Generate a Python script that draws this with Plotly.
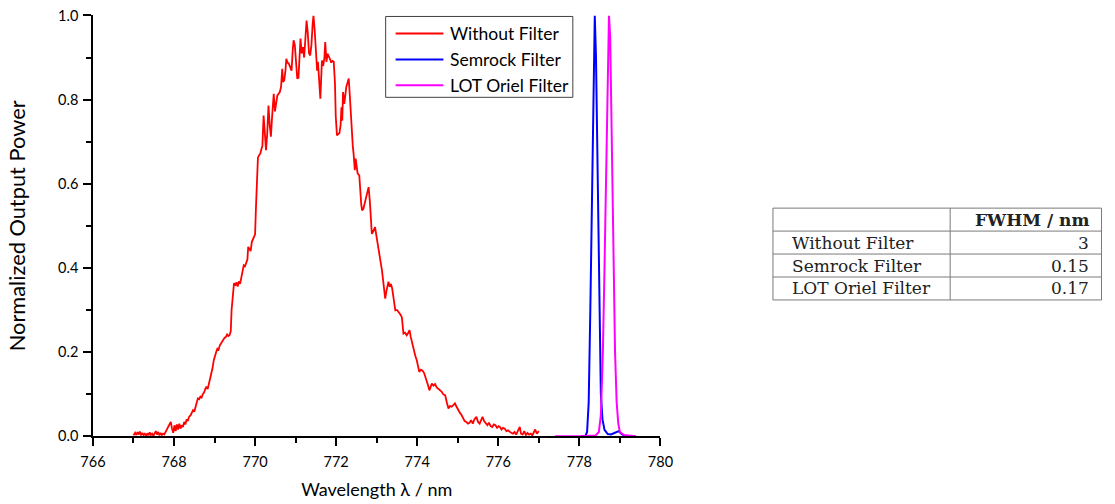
import plotly.graph_objects as go

W, H = 1115, 504

# The page is displayed slightly scaled and offset from the figure's own
# pixel grid; these constants convert screen pixels back to figure pixels.
SCALE_X, SCALE_Y = 0.981, 0.968
OFFSET_X, OFFSET_Y = 10.9, 8.8


def px(x):
    """Screen pixel column -> paper x fraction."""
    return (x / SCALE_X - OFFSET_X) / W


def py(y):
    """Screen pixel row (from top) -> paper y fraction."""
    return 1 - (y / SCALE_Y - OFFSET_Y) / H


# Spectrum without filter (wavelength in nm, normalized power)
wl_nofilter = [
    767.00, 767.04, 767.07, 767.10, 767.13, 767.16, 767.19, 767.22, 767.25, 767.28,
    767.31, 767.34, 767.37, 767.40, 767.43, 767.46, 767.49, 767.52, 767.55, 767.58,
    767.61, 767.64, 767.67, 767.70, 767.73, 767.76, 767.80, 767.84, 767.88, 767.92,
    767.95, 767.98, 768.01, 768.04, 768.07, 768.10, 768.13, 768.16, 768.19, 768.22,
    768.25, 768.28, 768.31, 768.34, 768.37, 768.41, 768.44, 768.47, 768.50, 768.53,
    768.56, 768.59, 768.62, 768.65, 768.68, 768.71, 768.74, 768.77, 768.80, 768.83,
    768.86, 768.89, 768.92, 768.95, 768.98, 769.01, 769.04, 769.07, 769.10, 769.13,
    769.16, 769.19, 769.22, 769.25, 769.28, 769.31, 769.34, 769.37, 769.40, 769.42,
    769.45, 769.48, 769.51, 769.54, 769.57, 769.60, 769.63, 769.66, 769.69, 769.72,
    769.75, 769.78, 769.81, 769.83, 769.86, 769.89, 769.92, 769.95, 769.98, 770.00,
    770.02, 770.04, 770.07, 770.10, 770.13, 770.16, 770.18, 770.21, 770.24, 770.27,
    770.30, 770.33, 770.36, 770.39, 770.42, 770.46, 770.49, 770.52, 770.55, 770.58,
    770.61, 770.64, 770.67, 770.69, 770.72, 770.75, 770.77, 770.80, 770.83, 770.87,
    770.90, 770.93, 770.95, 770.98, 771.01, 771.04, 771.07, 771.10, 771.12, 771.15,
    771.18, 771.21, 771.24, 771.27, 771.30, 771.33, 771.36, 771.39, 771.42, 771.44,
    771.47, 771.50, 771.53, 771.55, 771.58, 771.61, 771.63, 771.65, 771.68, 771.71,
    771.73, 771.76, 771.79, 771.82, 771.85, 771.88, 771.91, 771.94, 771.97, 771.99,
    772.02, 772.05, 772.08, 772.11, 772.13, 772.15, 772.17, 772.20, 772.23, 772.25,
    772.28, 772.31, 772.33, 772.35, 772.37, 772.39, 772.41, 772.43, 772.46, 772.48,
    772.50, 772.53, 772.57, 772.59, 772.62, 772.64, 772.67, 772.70, 772.72, 772.75,
    772.78, 772.80, 772.83, 772.86, 772.88, 772.91, 772.94, 772.96, 772.99, 773.02,
    773.05, 773.09, 773.13, 773.17, 773.21, 773.24, 773.27, 773.29, 773.32, 773.35,
    773.38, 773.41, 773.43, 773.46, 773.50, 773.54, 773.58, 773.62, 773.64, 773.66,
    773.70, 773.74, 773.78, 773.81, 773.84, 773.88, 773.91, 773.95, 773.99, 774.02,
    774.05, 774.09, 774.13, 774.17, 774.20, 774.24, 774.27, 774.30, 774.33, 774.36,
    774.40, 774.44, 774.48, 774.52, 774.56, 774.60, 774.64, 774.69, 774.73, 774.77,
    774.81, 774.85, 774.89, 774.93, 774.97, 775.01, 775.05, 775.09, 775.13, 775.17,
    775.21, 775.25, 775.29, 775.33, 775.37, 775.41, 775.46, 775.50, 775.54, 775.58,
    775.61, 775.65, 775.69, 775.73, 775.77, 775.81, 775.85, 775.89, 775.93, 775.97,
    776.01, 776.04, 776.08, 776.12, 776.16, 776.20, 776.24, 776.28, 776.32, 776.36,
    776.40, 776.44, 776.48, 776.53, 776.56, 776.60, 776.64, 776.68, 776.72, 776.76,
    776.80, 776.84, 776.88, 776.91, 776.95, 776.98, 777.00,
]
pw_nofilter = [
    0.002, 0.008, 0.003, 0.010, 0.004, 0.011, 0.002, 0.008, 0.003, 0.006,
    0.001, 0.007, 0.002, 0.009, 0.003, 0.006, 0.001, 0.005, 0.012, 0.004,
    0.010, 0.002, 0.008, 0.003, 0.006, 0.004, 0.012, 0.020, 0.030, 0.034,
    0.018, 0.008, 0.026, 0.012, 0.028, 0.016, 0.030, 0.018, 0.026, 0.022,
    0.034, 0.028, 0.040, 0.036, 0.046, 0.050, 0.056, 0.062, 0.058, 0.072,
    0.080, 0.090, 0.088, 0.094, 0.092, 0.100, 0.104, 0.112, 0.118, 0.112,
    0.124, 0.134, 0.146, 0.162, 0.180, 0.194, 0.200, 0.208, 0.206, 0.216,
    0.222, 0.226, 0.230, 0.234, 0.236, 0.242, 0.238, 0.240, 0.250, 0.300,
    0.340, 0.364, 0.358, 0.366, 0.356, 0.368, 0.362, 0.378, 0.386, 0.406,
    0.404, 0.412, 0.420, 0.450, 0.444, 0.440, 0.462, 0.468, 0.472, 0.480,
    0.540, 0.590, 0.662, 0.668, 0.672, 0.684, 0.690, 0.762, 0.720, 0.680,
    0.720, 0.786, 0.740, 0.712, 0.760, 0.814, 0.772, 0.790, 0.810, 0.814,
    0.818, 0.830, 0.873, 0.842, 0.846, 0.870, 0.897, 0.888, 0.886, 0.876,
    0.869, 0.920, 0.941, 0.930, 0.880, 0.850, 0.852, 0.900, 0.945, 0.910,
    0.925, 0.900, 0.950, 0.988, 0.958, 0.910, 0.905, 0.930, 0.980, 1.000,
    0.965, 0.920, 0.869, 0.890, 0.850, 0.802, 0.850, 0.893, 0.880, 0.900,
    0.937, 0.890, 0.909, 0.900, 0.896, 0.888, 0.892, 0.890, 0.840, 0.760,
    0.715, 0.718, 0.720, 0.740, 0.782, 0.750, 0.818, 0.790, 0.820, 0.830,
    0.840, 0.850, 0.820, 0.782, 0.740, 0.711, 0.690, 0.671, 0.632, 0.660,
    0.640, 0.624, 0.620, 0.576, 0.550, 0.537, 0.540, 0.552, 0.560, 0.570,
    0.580, 0.592, 0.560, 0.500, 0.481, 0.486, 0.494, 0.497, 0.478, 0.456,
    0.434, 0.418, 0.394, 0.355, 0.327, 0.345, 0.360, 0.367, 0.355, 0.362,
    0.352, 0.331, 0.315, 0.299, 0.300, 0.296, 0.290, 0.283, 0.262, 0.244,
    0.246, 0.240, 0.246, 0.252, 0.236, 0.218, 0.204, 0.192, 0.180, 0.166,
    0.153, 0.158, 0.156, 0.150, 0.142, 0.133, 0.120, 0.109, 0.118, 0.125,
    0.120, 0.124, 0.116, 0.113, 0.108, 0.106, 0.100, 0.097, 0.080, 0.066,
    0.072, 0.070, 0.074, 0.078, 0.070, 0.062, 0.056, 0.051, 0.044, 0.036,
    0.034, 0.030, 0.032, 0.038, 0.030, 0.040, 0.046, 0.034, 0.030, 0.040,
    0.046, 0.036, 0.030, 0.026, 0.032, 0.024, 0.022, 0.028, 0.026, 0.020,
    0.024, 0.022, 0.016, 0.020, 0.018, 0.012, 0.014, 0.010, 0.008, 0.006,
    0.010, 0.004, 0.012, 0.022, 0.006, 0.004, 0.012, 0.003, 0.008, 0.004,
    0.006, 0.002, 0.010, 0.016, 0.006, 0.010, 0.012,
]

# Transmission through the Semrock filter
wl_semrock = [778.05, 778.15, 778.19, 778.23, 778.27, 778.31, 778.35, 778.38, 778.41,
              778.45, 778.49, 778.53, 778.57, 778.62, 778.70, 778.78, 778.85, 778.92,
              778.97, 779.02, 779.08, 779.12]
pw_semrock = [0.000, 0.001, 0.010, 0.080, 0.300, 0.550, 0.850, 1.000, 0.900,
              0.600, 0.300, 0.100, 0.040, 0.015, 0.005, 0.004, 0.007, 0.011,
              0.012, 0.007, 0.002, 0.000]

# Transmission through the LOT Oriel filter
wl_oriel = [777.40, 778.00, 778.40, 778.48, 778.53, 778.58, 778.62, 778.66, 778.70,
            778.73, 778.76, 778.80, 778.84, 778.88, 778.92, 778.96, 779.00, 779.10,
            779.40]
pw_oriel = [0.000, 0.000, 0.002, 0.010, 0.050, 0.200, 0.400, 0.650, 0.920,
            1.000, 0.950, 0.700, 0.450, 0.200, 0.080, 0.030, 0.010, 0.003,
            0.000]

series_names = ["Without Filter", "Semrock Filter", "LOT Oriel Filter"]
series_colors = ["#FF0000", "#0000FF", "#FF00FF"]

# FWHM summary table
table_header = ["", "FWHM / nm"]
table_labels = ["Without Filter", "Semrock Filter", "LOT Oriel Filter"]
table_fwhm = ["3", "0.15", "0.17"]

x_range = [766, 780]
y_range = [0, 1]

SANS = "Lato"
SERIF = "DejaVu Serif"

fig = go.Figure()

series = [
    (wl_nofilter, pw_nofilter, 1.8),
    (wl_semrock, pw_semrock, 2.0),
    (wl_oriel, pw_oriel, 2.0),
]
for (xs, ys, lw), name, color in zip(series, series_names, series_colors):
    fig.add_trace(go.Scatter(
        x=xs, y=ys, mode="lines", name=name, showlegend=False,
        line=dict(color=color, width=lw),
    ))

shapes = []
annotations = []

# Legend box
LEG_L, LEG_R, LEG_T, LEG_B = 385, 573, 16, 97
shapes.append(dict(type="rect", xref="paper", yref="paper",
                   x0=px(LEG_L), x1=px(LEG_R), y0=py(LEG_B), y1=py(LEG_T),
                   line=dict(color="#404040", width=1), fillcolor="white", layer="above"))
for i, (name, color) in enumerate(zip(series_names, series_colors)):
    yc = 33 + i * 26
    shapes.append(dict(type="line", xref="paper", yref="paper",
                       x0=px(395), x1=px(443), y0=py(yc), y1=py(yc),
                       line=dict(color=color, width=2), layer="above"))
    annotations.append(dict(text=name, xref="paper", yref="paper",
                            x=px(448), y=py(yc), xanchor="left", yanchor="middle",
                            showarrow=False,
                            font=dict(family=SANS, size=17.5, color="black")))

# Table grid
TB_L, TB_SEP, TB_R = 774, 952, 1104
row_edges = [208, 231, 254, 277, 300]
grid = dict(color="#7a7a7a", width=1)
shapes.append(dict(type="rect", xref="paper", yref="paper",
                   x0=px(TB_L), x1=px(TB_R), y0=py(row_edges[-1]), y1=py(row_edges[0]),
                   line=grid, fillcolor="white"))
shapes.append(dict(type="line", xref="paper", yref="paper",
                   x0=px(TB_SEP), x1=px(TB_SEP), y0=py(row_edges[-1]), y1=py(row_edges[0]),
                   line=grid))
for ye in row_edges[1:-1]:
    shapes.append(dict(type="line", xref="paper", yref="paper",
                       x0=px(TB_L), x1=px(TB_R), y0=py(ye), y1=py(ye), line=grid))

cell_font = dict(family=SERIF, size=17, color="#222")
rows_text = [table_header] + [[lab, val] for lab, val in zip(table_labels, table_fwhm)]
for r, (lab, val) in enumerate(rows_text):
    yc = (row_edges[r] + row_edges[r + 1]) / 2
    if lab:
        annotations.append(dict(text=lab, xref="paper", yref="paper",
                                x=px(TB_L + 17), y=py(yc), xanchor="left", yanchor="middle",
                                showarrow=False, font=cell_font))
    font = dict(cell_font, weight="bold") if r == 0 else cell_font
    annotations.append(dict(text=val, xref="paper", yref="paper",
                            x=px(TB_R - 11), y=py(yc), xanchor="right", yanchor="middle",
                            showarrow=False, font=font))

axis_common = dict(
    showline=True, linecolor="black", linewidth=1.5,
    ticks="outside", ticklen=8, tickwidth=1.5, tickcolor="black",
    showgrid=False, zeroline=False, mirror=False,
    ticklabeloverflow="allow",
    tickfont=dict(family=SANS, size=14.5, color="black"),
)

fig.update_layout(
    width=W, height=H,
    margin=dict(l=0, r=0, t=0, b=0),
    paper_bgcolor="white", plot_bgcolor="white",
    showlegend=False,
    shapes=shapes,
    annotations=annotations,
    xaxis=dict(
        domain=[px(91), px(661)], range=x_range,
        tickmode="linear", tick0=766, dtick=2, ticklabelstandoff=4,
        minor=dict(dtick=1, ticks="outside", ticklen=5, tickwidth=1.5, tickcolor="black"),
        title=dict(text="Wavelength λ / nm", font=dict(family=SANS, size=18, color="black"),
                   standoff=14),
        **axis_common,
    ),
    yaxis=dict(
        domain=[py(436.5), py(15)], range=y_range,
        tickmode="linear", tick0=0, dtick=0.2, tickformat=".1f", ticklabelstandoff=2,
        minor=dict(dtick=0.1, ticks="outside", ticklen=5, tickwidth=1.5, tickcolor="black"),
        title=dict(text="Normalized Output Power", font=dict(family=SANS, size=21.8, color="black"),
                   standoff=26),
        **axis_common,
    ),
)

fig.write_html("out.html")
